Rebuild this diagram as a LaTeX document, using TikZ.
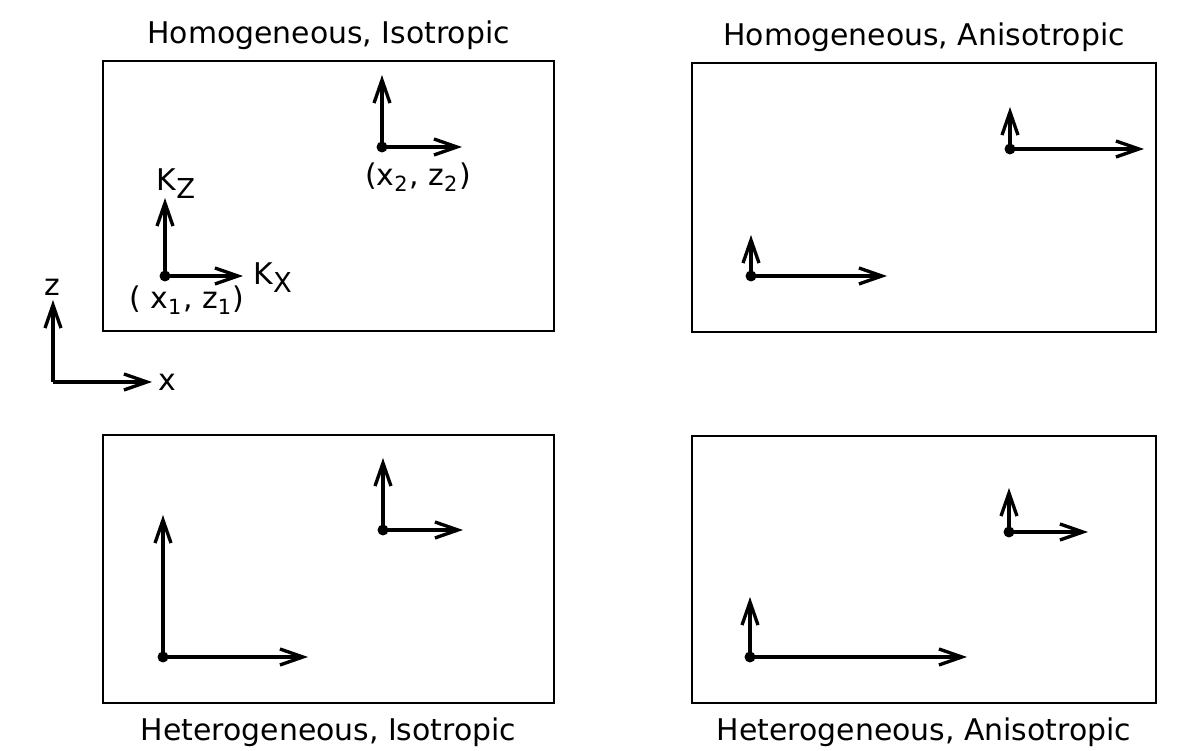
\documentclass[tikz,border=0pt]{standalone}
\usepackage{fontspec}
\setmainfont{DejaVu Sans}
\usetikzlibrary{arrows.meta, positioning}
\newcommand{\lowsub}[1]{\raisebox{-0.5ex}{\fontsize{7.8}{9}\selectfont #1}}
\tikzset{
  every picture/.style={line width=0.6pt},
  panel/.style={draw, line width=0.7pt, inner sep=0pt},
  vec/.style={-{Straight Barb[length=2.3mm, width=1.6mm]}, line width=0.95pt},
  title/.style={font=\fontsize{8.5}{10}\selectfont},
  lbl/.style={font=\fontsize{8.5}{10}\selectfont, inner sep=1pt},
}

\begin{document}
\begin{tikzpicture}
  \useasboundingbox (0,0) rectangle (11.83,7.51);
  % the four media
  \node[panel, minimum width=4.51cm, minimum height=2.70cm] (tl) at (3.285,5.55) {};
  \node[panel, minimum width=4.64cm, minimum height=2.69cm] (tr) at (9.24,5.535) {};
  \node[panel, minimum width=4.51cm, minimum height=2.68cm] (bl) at (3.285,1.82) {};
  \node[panel, minimum width=4.64cm, minimum height=2.67cm] (br) at (9.24,1.815) {};
  \node[title, above=-0.03cm of tl] (tl-t) {Homogeneous, Isotropic};
  \node[title, above=-0.03cm of tr] (tr-t) {Homogeneous, Anisotropic};
  \node[title, below=0.01cm of bl] (bl-t) {Heterogeneous, Isotropic};
  \node[title, below=0.01cm of br] (br-t) {Heterogeneous, Anisotropic};
  % conductivity pairs: point / tip of K_z / tip of K_x
  \foreach \n/\x/\y/\zt/\xt in {tl1/1.65/4.75/5.53/2.43, tl2/3.82/6.04/6.76/4.62,
      tr1/7.51/4.75/5.16/8.87, tr2/10.10/6.02/6.44/11.44,
      bl1/1.63/0.94/2.36/3.08, bl2/3.83/2.21/2.93/4.63,
      br1/7.50/0.94/1.54/9.67, br2/10.09/2.19/2.63/10.88} {
    \coordinate (\n) at (\x,\y);
    \coordinate (\n-z) at (\x,\zt);
    \coordinate (\n-x) at (\xt,\y);
    \draw[vec] (\n) -- (\n-z);
    \draw[vec] (\n) -- (\n-x);
    \fill (\n) circle (0.055);
  }
  \node[lbl] (kz) at (1.76,5.67) {K\lowsub{Z}};
  \node[lbl, anchor=west] (kx) at (2.49,4.73) {K\lowsub{X}};
  \node[lbl] (p1) at (1.87,4.51) {( x\textsubscript{1}, z\textsubscript{1})};
  \node[lbl] (p2) at (4.18,5.74) {(x\textsubscript{2}, z\textsubscript{2})};
  % reference axes
  \coordinate (ax) at (0.53,3.69);
  \coordinate (ax-z) at (0.53,4.51);
  \coordinate (ax-x) at (1.52,3.69);
  \draw[vec] (ax) -- (ax-z);
  \draw[vec] (ax) -- (ax-x);
  \node[lbl] (zl) at (0.52,4.64) {z};
  \node[lbl, anchor=west] (xl) at (1.54,3.69) {x};
\end{tikzpicture}
\end{document}
